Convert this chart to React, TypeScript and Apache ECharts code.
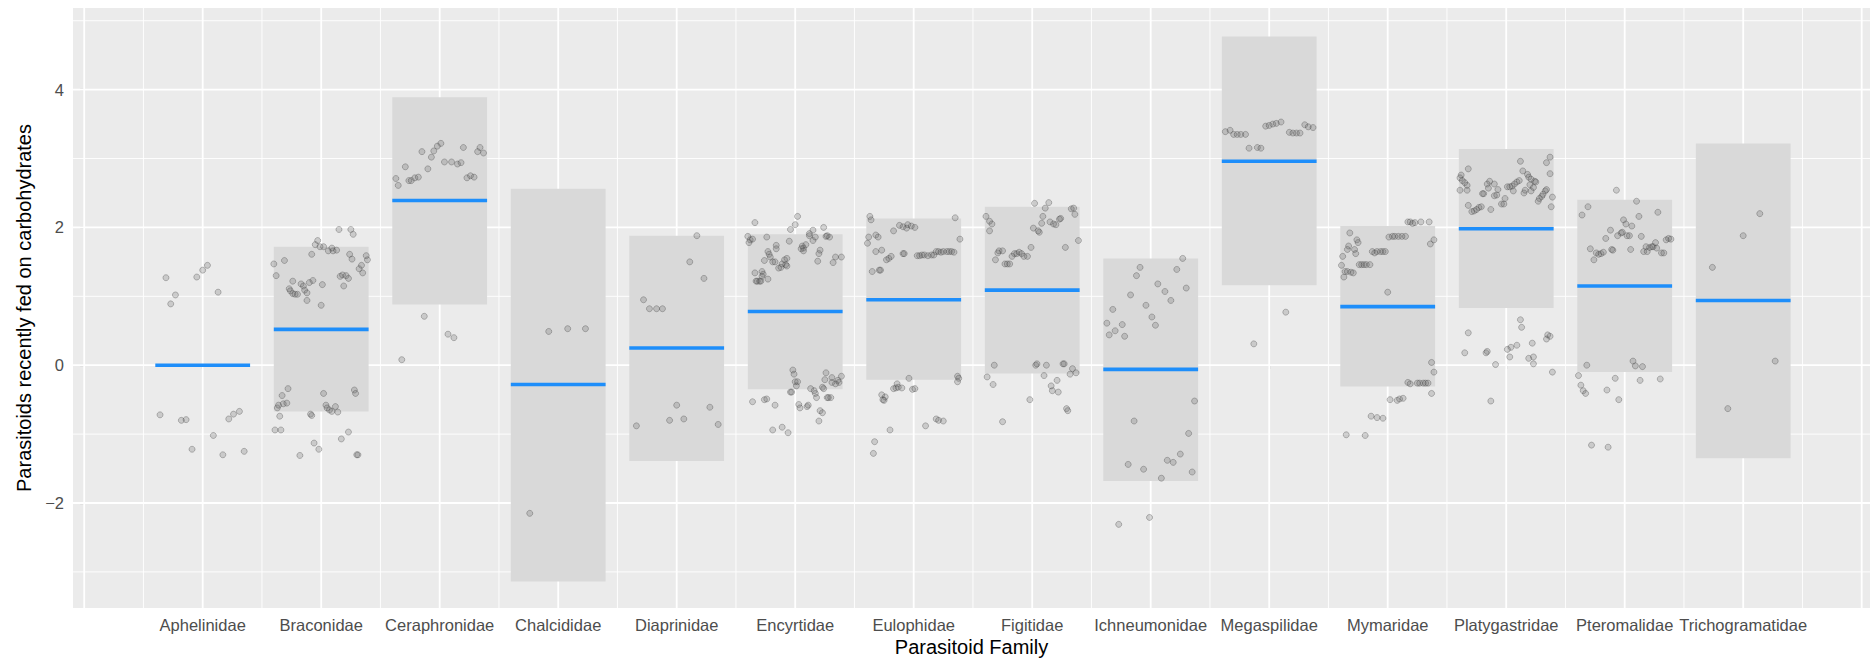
import React, { useEffect, useRef } from "react";
import * as echarts from "echarts";

const families = [
  "Aphelinidae", "Braconidae", "Ceraphronidae", "Chalcididae", "Diaprinidae",
  "Encyrtidae", "Eulophidae", "Figitidae", "Ichneumonidae", "Megaspilidae",
  "Mymaridae", "Platygastridae", "Pteromalidae", "Trichogramatidae",
];

const means = [0.0, 0.52, 2.39, -0.28, 0.25, 0.78, 0.95, 1.09, -0.06, 2.96, 0.85, 1.98, 1.15, 0.94];
const ciLow = [null, -0.67, 0.88, -3.14, -1.39, -0.35, -0.21, -0.12, -1.68, 1.16, -0.31, 0.83, -0.1, -1.35];
const ciHigh = [null, 1.72, 3.89, 2.56, 1.88, 1.9, 2.13, 2.3, 1.55, 4.77, 2.02, 3.14, 2.4, 3.22];

const yTickValues = [-2, 0, 2, 4];
const yMinorValues = [-3, -1, 1, 3, 5];
const xMajorValues = [0, 1, 2, 3, 4, 5, 6, 7, 8, 9, 10, 11, 12, 13, 14, 15];
const xMinorValues = [0.5, 1.5, 2.5, 3.5, 4.5, 5.5, 6.5, 7.5, 8.5, 9.5, 10.5, 11.5, 12.5, 13.5, 14.5];
const xTickValues = [1, 2, 3, 4, 5, 6, 7, 8, 9, 10, 11, 12, 13, 14];

// jittered observations: [horizontal jitter, value]
const ptsAphelinidae = [[-0.31,1.27],[-0.23,1.02],[-0.27,0.89],[-0.05,1.28],[0.0,1.38],[0.04,1.45],[0.13,1.06],[-0.36,-0.72],[-0.18,-0.8],[-0.14,-0.79],[-0.09,-1.22],[0.09,-1.02],[0.17,-1.3],[0.22,-0.78],[0.26,-0.71],[0.31,-0.67],[0.35,-1.25]];
const ptsBraconidae = [[0.15,1.97],[0.25,1.97],[0.27,1.9],[-0.03,1.81],[-0.05,1.75],[-0.01,1.72],[0.02,1.72],[0.09,1.7],[0.06,1.66],[0.1,1.66],[0.13,1.67],[-0.08,1.61],[0.24,1.61],[0.26,1.54],[0.38,1.59],[0.39,1.53],[-0.4,1.47],[-0.31,1.52],[0.34,1.45],[0.32,1.4],[0.35,1.34],[-0.38,1.3],[0.16,1.29],[0.18,1.31],[0.21,1.3],[0.23,1.26],[0.19,1.15],[-0.24,1.22],[-0.17,1.18],[-0.15,1.15],[-0.1,1.2],[-0.07,1.23],[0.01,1.17],[-0.27,1.11],[-0.26,1.08],[-0.24,1.04],[-0.22,1.03],[-0.2,1.03],[-0.14,1.09],[-0.12,1.05],[-0.12,0.94],[0.0,0.87],[-0.28,-0.34],[-0.33,-0.44],[0.02,-0.41],[0.28,-0.36],[0.29,-0.41],[-0.37,-0.62],[-0.36,-0.58],[-0.32,-0.56],[-0.29,-0.55],[0.04,-0.58],[0.05,-0.62],[0.07,-0.65],[0.09,-0.67],[0.12,-0.6],[0.14,-0.68],[-0.35,-0.74],[-0.09,-0.71],[-0.08,-0.73],[-0.39,-0.94],[-0.34,-0.94],[-0.06,-1.13],[-0.02,-1.22],[0.17,-1.07],[0.23,-0.97],[-0.18,-1.31],[0.3,-1.3],[0.31,-1.3]];
const ptsCeraphronidae = [[-0.37,2.71],[-0.35,2.61],[-0.29,2.88],[-0.26,2.68],[-0.24,2.68],[-0.21,2.72],[-0.18,2.73],[-0.15,3.1],[-0.1,2.85],[-0.07,3.02],[-0.05,3.11],[-0.02,3.18],[0.01,3.22],[0.04,2.95],[0.1,2.95],[0.15,2.92],[0.18,2.94],[0.2,3.16],[0.23,2.72],[0.26,2.75],[0.29,2.73],[0.32,3.1],[0.34,3.16],[0.37,3.08],[-0.13,0.71],[0.07,0.45],[0.12,0.4],[-0.32,0.08]];
const ptsChalcididae = [[-0.08,0.49],[0.08,0.53],[0.23,0.53],[-0.24,-2.15]];
const ptsDiaprinidae = [[0.17,1.88],[0.11,1.5],[0.23,1.26],[-0.28,0.95],[-0.23,0.82],[-0.17,0.82],[-0.12,0.82],[0.0,-0.58],[-0.06,-0.8],[0.06,-0.78],[0.28,-0.61],[-0.34,-0.88],[0.35,-0.86]];
const ptsEncyrtidae = [[0.02,2.16],[0.0,2.04],[-0.04,1.97],[-0.34,2.07],[0.24,2.0],[0.15,1.96],[0.12,1.91],[0.12,1.88],[0.15,1.81],[0.17,1.86],[0.26,1.87],[0.29,1.86],[0.27,1.88],[-0.4,1.87],[-0.38,1.82],[-0.39,1.78],[-0.36,1.83],[-0.24,1.86],[-0.05,1.8],[-0.16,1.74],[-0.16,1.69],[-0.23,1.65],[-0.22,1.61],[-0.21,1.57],[-0.19,1.5],[-0.17,1.5],[-0.26,1.52],[-0.14,1.41],[-0.12,1.42],[-0.11,1.47],[-0.09,1.53],[-0.07,1.55],[-0.08,1.46],[-0.07,1.44],[0.06,1.73],[0.07,1.7],[0.09,1.75],[0.05,1.69],[0.07,1.66],[0.21,1.67],[0.2,1.62],[0.19,1.51],[0.32,1.49],[0.34,1.57],[0.39,1.57],[-0.34,1.34],[-0.28,1.36],[-0.27,1.32],[-0.28,1.29],[-0.23,1.25],[-0.33,1.22],[-0.32,1.22],[-0.3,1.22],[-0.29,1.22],[-0.02,-0.07],[-0.01,-0.13],[0.26,-0.11],[0.31,-0.18],[0.39,-0.16],[0.0,-0.24],[0.02,-0.24],[0.01,-0.3],[0.36,-0.22],[0.37,-0.25],[0.34,-0.27],[0.31,-0.25],[0.25,-0.21],[-0.04,-0.39],[-0.03,-0.39],[0.13,-0.34],[0.16,-0.37],[0.17,-0.41],[0.23,-0.32],[0.24,-0.34],[0.28,-0.47],[0.3,-0.47],[0.27,-0.47],[-0.36,-0.53],[-0.26,-0.5],[-0.24,-0.49],[-0.17,-0.58],[0.03,-0.57],[0.04,-0.62],[0.1,-0.6],[0.11,-0.58],[0.18,-0.47],[0.21,-0.66],[0.23,-0.69],[0.2,-0.81],[-0.19,-0.94],[-0.11,-0.9],[-0.06,-0.98]];
const ptsEulophidae = [[-0.37,2.16],[-0.36,2.11],[-0.38,1.86],[-0.39,1.77],[-0.32,1.89],[-0.3,1.86],[-0.32,1.65],[-0.27,1.67],[-0.35,1.36],[-0.29,1.38],[-0.28,1.38],[-0.23,1.53],[-0.21,1.55],[-0.19,1.58],[-0.17,1.95],[-0.12,2.03],[-0.09,2.01],[-0.06,1.99],[-0.05,2.04],[-0.02,2.02],[0.01,2.0],[-0.09,1.62],[-0.08,1.62],[0.03,1.59],[0.05,1.59],[0.07,1.6],[0.09,1.6],[0.12,1.59],[0.15,1.6],[0.17,1.6],[0.19,1.65],[0.21,1.65],[0.23,1.64],[0.25,1.65],[0.28,1.65],[0.3,1.65],[0.32,1.65],[0.34,1.64],[0.35,2.14],[0.39,1.83],[-0.04,-0.19],[-0.14,-0.27],[-0.17,-0.34],[-0.15,-0.33],[-0.13,-0.32],[-0.1,-0.33],[-0.01,-0.35],[0.01,-0.34],[-0.27,-0.43],[-0.24,-0.46],[-0.26,-0.5],[-0.25,-0.51],[0.37,-0.16],[0.38,-0.19],[0.37,-0.24],[-0.2,-0.94],[0.1,-0.88],[0.19,-0.78],[0.21,-0.8],[0.25,-0.81],[-0.33,-1.11],[-0.34,-1.28]];
const ptsFigitidae = [[0.02,2.35],[0.14,2.36],[0.11,2.28],[0.09,2.16],[0.08,2.06],[0.01,1.99],[0.06,1.93],[0.05,1.95],[0.15,2.08],[0.18,2.05],[0.2,2.04],[0.24,2.13],[0.23,2.12],[0.33,2.27],[0.35,2.28],[0.36,2.19],[0.39,1.81],[0.28,1.71],[-0.39,2.16],[-0.36,2.09],[-0.34,2.05],[-0.36,1.95],[-0.29,1.63],[-0.28,1.66],[-0.25,1.66],[-0.31,1.53],[-0.01,1.71],[-0.17,1.58],[-0.15,1.62],[-0.13,1.62],[-0.11,1.64],[-0.09,1.62],[-0.07,1.58],[-0.04,1.58],[-0.23,1.47],[-0.21,1.47],[-0.19,1.47],[-0.32,0.0],[-0.38,-0.17],[-0.33,-0.28],[0.03,0.0],[0.04,0.02],[0.12,0.0],[0.26,0.02],[0.27,0.02],[0.1,-0.15],[0.34,-0.05],[0.37,-0.11],[0.32,-0.13],[0.21,-0.22],[0.16,-0.3],[0.17,-0.37],[0.22,-0.39],[-0.02,-0.5],[-0.25,-0.82],[0.29,-0.63],[0.3,-0.66]];
const ptsIchneumonidae = [[0.27,1.55],[-0.09,1.42],[0.22,1.39],[-0.12,1.3],[0.3,1.12],[0.06,1.18],[0.12,1.07],[-0.17,1.02],[0.17,0.94],[-0.04,0.87],[-0.32,0.81],[0.01,0.7],[-0.37,0.61],[-0.24,0.59],[0.04,0.58],[-0.3,0.5],[-0.35,0.44],[-0.22,0.42],[0.37,-0.52],[-0.14,-0.81],[0.32,-0.99],[0.25,-1.29],[0.14,-1.38],[0.19,-1.41],[-0.19,-1.44],[-0.06,-1.51],[0.35,-1.55],[0.09,-1.64],[-0.27,-2.31],[-0.01,-2.21]];
const ptsMegaspilidae = [[-0.37,3.39],[-0.33,3.41],[-0.3,3.35],[-0.27,3.35],[-0.24,3.35],[-0.2,3.35],[-0.17,3.15],[-0.1,3.16],[-0.07,3.15],[-0.03,3.47],[0.0,3.48],[0.03,3.5],[0.06,3.51],[0.1,3.53],[0.17,3.38],[0.2,3.37],[0.23,3.37],[0.26,3.37],[0.3,3.49],[0.33,3.46],[0.37,3.45],[0.14,0.77],[-0.13,0.31]];
const ptsMymaridae = [[-0.32,1.92],[-0.26,1.82],[-0.25,1.78],[-0.33,1.73],[-0.34,1.68],[-0.28,1.68],[-0.27,1.62],[-0.38,1.58],[-0.39,1.45],[-0.36,1.36],[-0.37,1.28],[-0.34,1.36],[-0.31,1.35],[-0.29,1.34],[-0.24,1.46],[-0.22,1.46],[-0.2,1.46],[-0.18,1.46],[-0.15,1.46],[-0.13,1.65],[-0.11,1.63],[-0.09,1.65],[-0.06,1.65],[-0.04,1.65],[-0.02,1.65],[0.0,1.06],[0.01,1.86],[0.04,1.87],[0.06,1.87],[0.09,1.87],[0.12,1.87],[0.15,1.87],[0.17,2.08],[0.19,2.08],[0.21,2.06],[0.23,2.07],[0.28,2.08],[0.35,2.08],[0.36,1.76],[0.39,1.82],[0.37,0.04],[0.39,-0.1],[0.17,-0.25],[0.19,-0.27],[0.25,-0.26],[0.27,-0.26],[0.3,-0.26],[0.32,-0.26],[0.34,-0.26],[0.37,-0.41],[0.02,-0.5],[0.08,-0.51],[0.1,-0.49],[0.13,-0.48],[-0.14,-0.74],[-0.09,-0.76],[-0.04,-0.77],[-0.35,-1.01],[-0.19,-1.02]];
const ptsPlatygastridae = [[0.37,3.02],[0.12,2.96],[0.34,2.94],[0.37,2.78],[-0.32,2.85],[-0.38,2.76],[-0.39,2.72],[-0.37,2.68],[-0.35,2.65],[-0.33,2.61],[-0.39,2.54],[-0.33,2.54],[-0.14,2.67],[-0.16,2.63],[-0.15,2.57],[-0.1,2.63],[-0.07,2.55],[-0.19,2.49],[-0.2,2.49],[-0.13,2.26],[-0.1,2.46],[-0.08,2.47],[-0.04,2.34],[-0.02,2.34],[-0.01,2.42],[0.01,2.59],[0.03,2.59],[0.05,2.6],[0.07,2.63],[0.09,2.66],[0.11,2.68],[0.14,2.82],[0.18,2.77],[0.19,2.73],[0.21,2.7],[0.24,2.67],[0.25,2.66],[0.15,2.5],[0.16,2.54],[0.2,2.62],[0.21,2.53],[0.23,2.58],[0.27,2.38],[0.28,2.42],[0.3,2.45],[0.31,2.48],[0.33,2.53],[0.34,2.55],[0.39,2.44],[0.38,2.3],[-0.32,2.32],[-0.29,2.23],[-0.27,2.24],[-0.25,2.26],[-0.23,2.29],[-0.21,2.3],[0.06,2.53],[0.12,0.66],[0.13,0.55],[-0.32,0.47],[0.35,0.44],[0.34,0.38],[0.37,0.42],[0.22,0.32],[0.09,0.29],[0.04,0.26],[0.01,0.23],[0.03,0.12],[-0.35,0.18],[-0.17,0.18],[-0.16,0.2],[-0.09,0.01],[0.19,0.1],[0.23,0.12],[0.23,0.02],[0.39,-0.1],[-0.13,-0.52]];
const ptsPteromalidae = [[-0.07,2.54],[0.1,2.38],[-0.31,2.3],[-0.36,2.18],[0.28,2.22],[0.12,2.16],[-0.01,2.11],[0.01,2.05],[0.06,2.02],[-0.12,1.96],[-0.16,1.84],[-0.06,1.88],[-0.03,1.92],[-0.02,1.93],[0.02,1.88],[0.04,1.88],[0.14,1.87],[-0.29,1.69],[-0.24,1.63],[-0.22,1.61],[-0.2,1.62],[-0.18,1.64],[-0.26,1.53],[-0.11,1.68],[-0.1,1.67],[0.05,1.68],[0.16,1.65],[0.18,1.72],[0.19,1.65],[0.21,1.71],[0.23,1.72],[0.24,1.72],[0.26,1.78],[0.27,1.7],[0.31,1.63],[0.33,1.63],[0.35,1.82],[0.37,1.84],[0.39,1.83],[-0.32,0.0],[0.07,0.06],[0.09,-0.01],[0.15,-0.02],[-0.39,-0.15],[-0.37,-0.29],[-0.35,-0.37],[-0.33,-0.41],[-0.15,-0.36],[-0.08,-0.19],[-0.05,-0.5],[0.13,-0.22],[0.3,-0.2],[-0.28,-1.16],[-0.14,-1.19]];
const ptsTrichogramatidae = [[0.14,2.2],[0.0,1.88],[-0.26,1.42],[0.27,0.06],[-0.13,-0.63]];

const observations = [
  ptsAphelinidae, ptsBraconidae, ptsCeraphronidae, ptsChalcididae, ptsDiaprinidae,
  ptsEncyrtidae, ptsEulophidae, ptsFigitidae, ptsIchneumonidae, ptsMegaspilidae,
  ptsMymaridae, ptsPlatygastridae, ptsPteromalidae, ptsTrichogramatidae,
];

const FONT = "'Liberation Sans', Arial, Helvetica, sans-serif";
const HALF = 0.4;

export default function App() {
  const ref = useRef<HTMLDivElement>(null);

  useEffect(() => {
    document.body.style.margin = "0";
    if (!ref.current) return;
    const chart = echarts.init(ref.current, null, { renderer: "svg" });

    const scatterData: number[][] = [];
    observations.forEach((pts, i) => {
      pts.forEach(([dx, v]) => scatterData.push([i + 1 + dx, v]));
    });

    const rectData: number[][] = [];
    families.forEach((_, i) => {
      if (ciLow[i] !== null && ciHigh[i] !== null) rectData.push([i + 1, ciLow[i] as number, ciHigh[i] as number]);
    });
    const meanData = means.map((m, i) => [i + 1, m]);

    const vLine = (width: number) => (params: any, api: any) => {
      const cs = params.coordSys;
      const x = api.coord([api.value(0), 0])[0];
      return {
        type: "line",
        shape: { x1: x, y1: cs.y, x2: x, y2: cs.y + cs.height },
        style: { stroke: "#FFFFFF", lineWidth: width },
        silent: true,
      };
    };
    const hLine = (width: number) => (params: any, api: any) => {
      const cs = params.coordSys;
      const y = api.coord([0, api.value(1)])[1];
      return {
        type: "line",
        shape: { x1: cs.x, y1: y, x2: cs.x + cs.width, y2: y },
        style: { stroke: "#FFFFFF", lineWidth: width },
        silent: true,
      };
    };

    chart.setOption({
      animation: false,
      backgroundColor: "#FFFFFF",
      textStyle: { fontFamily: FONT },
      grid: {
        left: 73,
        right: 0,
        top: 8,
        bottom: 54,
        show: true,
        backgroundColor: "#EBEBEB",
        borderWidth: 0,
      },
      xAxis: {
        type: "value",
        min: -0.0945,
        max: 15.07,
        splitLine: { show: false },
        axisLine: { show: false },
        axisTick: {
          show: true,
          customValues: xTickValues,
          length: 4,
          lineStyle: { color: "#333333", width: 1.1 },
        },
        axisLabel: {
          customValues: xTickValues,
          formatter: (v: number) => families[Math.round(v) - 1] ?? "",
          fontSize: 16.5,
          color: "#4D4D4D",
          margin: 8,
          fontFamily: FONT,
        },
      },
      yAxis: {
        type: "value",
        min: -3.524,
        max: 5.185,
        splitLine: { show: false },
        axisLine: { show: false },
        axisTick: {
          show: true,
          customValues: yTickValues,
          length: 4,
          lineStyle: { color: "#333333", width: 1.1 },
        },
        axisLabel: {
          customValues: yTickValues,
          formatter: (v: number) => (v < 0 ? "\u2212" + Math.abs(v) : String(v)),
          fontSize: 16.5,
          color: "#4D4D4D",
          margin: 9,
          fontFamily: FONT,
        },
      },
      graphic: [
        {
          type: "text",
          x: 971.5,
          y: 647,
          style: {
            text: "Parasitoid Family",
            fontSize: 20,
            fontFamily: FONT,
            fill: "#000000",
            align: "center",
            verticalAlign: "middle",
          },
        },
        {
          type: "text",
          x: 24,
          y: 308,
          rotation: Math.PI / 2,
          style: {
            text: "Parasitoids recently fed on carbohydrates",
            fontSize: 20,
            fontFamily: FONT,
            fill: "#000000",
            align: "center",
            verticalAlign: "middle",
          },
        },
      ],
      series: [
        { type: "custom", z: 1, silent: true, data: xMinorValues.map((v) => [v, 0]), renderItem: vLine(0.9) },
        { type: "custom", z: 1, silent: true, data: yMinorValues.map((v) => [0, v]), renderItem: hLine(0.9) },
        { type: "custom", z: 1, silent: true, data: xMajorValues.map((v) => [v, 0]), renderItem: vLine(1.8) },
        { type: "custom", z: 1, silent: true, data: yTickValues.map((v) => [0, v]), renderItem: hLine(1.8) },
        {
          type: "custom",
          z: 2,
          silent: true,
          data: rectData,
          renderItem: (params: any, api: any) => {
            const x = api.value(0);
            const p1 = api.coord([x - HALF, api.value(2)]);
            const p2 = api.coord([x + HALF, api.value(1)]);
            return {
              type: "rect",
              shape: { x: p1[0], y: p1[1], width: p2[0] - p1[0], height: p2[1] - p1[1] },
              style: { fill: "#D9D9D9" },
            };
          },
        },
        {
          type: "custom",
          z: 3,
          silent: true,
          data: meanData,
          renderItem: (params: any, api: any) => {
            const x = api.value(0);
            const p1 = api.coord([x - HALF, api.value(1)]);
            const p2 = api.coord([x + HALF, api.value(1)]);
            return {
              type: "line",
              shape: { x1: p1[0], y1: p1[1], x2: p2[0], y2: p2[1] },
              style: { stroke: "#1E8EFA", lineWidth: 3.6 },
            };
          },
        },
        {
          type: "scatter",
          z: 4,
          silent: true,
          data: scatterData,
          symbol: "circle",
          symbolSize: 6,
          itemStyle: {
            color: "rgba(95,95,95,0.3)",
            borderColor: "rgba(45,45,45,0.45)",
            borderWidth: 0.8,
          },
        },
      ],
    });

    return () => chart.dispose();
  }, []);

  return <div ref={ref} style={{ width: 1870, height: 662 }} />;
}
